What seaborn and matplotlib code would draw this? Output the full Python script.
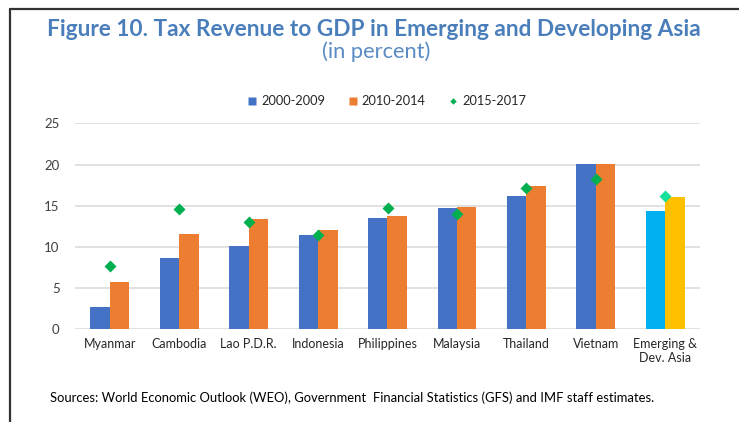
import matplotlib
matplotlib.use("Agg")
import matplotlib.pyplot as plt
from matplotlib.lines import Line2D
import seaborn as sns
import pandas as pd
import numpy as np

# ---- data ----
categories = ["Myanmar", "Cambodia", "Lao P.D.R.", "Indonesia", "Philippines",
              "Malaysia", "Thailand", "Vietnam", "Emerging &\nDev. Asia"]
v_2000_2009 = [2.7, 8.7, 10.1, 11.5, 13.5, 14.7, 16.2, 20.1, 14.4]
v_2010_2014 = [5.7, 11.6, 13.4, 12.1, 13.8, 14.8, 17.4, 20.1, 16.1]
v_2015_2017 = [7.7, 14.6, 13.0, 11.5, 14.7, 14.0, 17.1, 18.3, 16.2]
series_names = ["2000-2009", "2010-2014", "2015-2017"]
yticks = [0, 5, 10, 15, 20, 25]

title = "Figure 10. Tax Revenue to GDP in Emerging and Developing Asia"
subtitle = "(in percent)"
source = ("Sources: World Economic Outlook (WEO), Government  Financial Statistics (GFS) "
          "and IMF staff estimates.")

# ---- style ----
sns.set_theme(style="white")
plt.rcParams["font.family"] = ["Lato", "DejaVu Sans"]

C_BLUE = "#4472C4"
C_ORANGE = "#ED7D31"
C_CYAN = "#00B0F0"
C_GOLD = "#FFC000"
C_GREEN = "#00B050"
C_MINT = "#14E09C"
C_TITLE = "#4A7EBB"
C_TEXT = "#404040"

W, H = 739, 422
fig = plt.figure(figsize=(W / 100, H / 100), dpi=100)
fig.patch.set_facecolor("white")

ax = fig.add_axes([75 / W, (H - 329.3) / H, 625 / W, 206 / H])

df = pd.DataFrame({
    "category": categories * 2,
    "value": v_2000_2009 + v_2010_2014,
    "series": [series_names[0]] * len(categories) + [series_names[1]] * len(categories),
})

sns.barplot(data=df, x="category", y="value", hue="series",
            palette=[C_BLUE, C_ORANGE], width=0.56, gap=0, linewidth=0,
            saturation=1, ax=ax, legend=False, order=categories)

# aggregate group coloured differently
for cont, col in zip(ax.containers, [C_CYAN, C_GOLD]):
    cont.patches[-1].set_facecolor(col)

diamond_colors = [C_GREEN] * (len(categories) - 1) + [C_MINT]
sns.stripplot(x=categories, y=v_2015_2017, hue=categories, palette=diamond_colors,
              order=categories, hue_order=categories,
              jitter=False, marker="D", size=6.1, linewidth=0, ax=ax,
              legend=False, zorder=5)

ax.set_xlim(-0.5, len(categories) - 0.5)
ax.set_ylim(0, 25)
ax.set_yticks(yticks)
ax.set_yticklabels([str(t) for t in yticks])
ax.set_xlabel("")
ax.set_ylabel("")
ax.yaxis.grid(True, color="#D9D9D9", lw=1.1)
ax.xaxis.grid(False)
ax.set_axisbelow(True)
for s in ax.spines.values():
    s.set_visible(False)
ax.tick_params(axis="y", length=0, pad=11, labelsize=9.5, labelcolor=C_TEXT)
ax.tick_params(axis="x", length=0, pad=6, labelsize=9, labelcolor="#262626")
for lab in ax.get_xticklabels():
    lab.set_linespacing(1.25)

# ---- legend ----
handles = [
    Line2D([], [], ls="none", marker="s", ms=5.3, color=C_BLUE, mec="none"),
    Line2D([], [], ls="none", marker="s", ms=5.3, color=C_ORANGE, mec="none"),
    Line2D([], [], ls="none", marker="D", ms=3.3, color=C_GREEN, mec="none"),
]
leg = fig.legend(handles, series_names, loc="center", ncol=3, frameon=False,
                 bbox_to_anchor=(387 / W, 1 - 101 / H), fontsize=9.2,
                 handlelength=0.7, handletextpad=0.35, columnspacing=1.8,
                 borderpad=0, labelcolor="#262626")

# ---- texts ----
t_title = fig.text(374 / W, 1 - 36 / H, title, ha="center", va="baseline",
                   fontsize=15, fontweight="bold", color=C_TITLE)
t_sub = fig.text(376 / W, 1 - 57.5 / H, subtitle, ha="center", va="baseline",
                 fontsize=14, fontweight="normal", color="#5A8BC4")
t_src = fig.text(50 / W, 1 - 398 / H, source, ha="left", va="center",
                 fontsize=9, color="black")

renderer = fig.canvas.get_renderer()


def fit(txt, target_px):
    for _ in range(3):
        w = txt.get_window_extent(renderer).width
        txt.set_fontsize(txt.get_fontsize() * target_px / w)


fit(t_title, 652)
fit(t_sub, 108)
fit(t_src, 605)

# ---- frame lines ----
fig.add_artist(Line2D([9.5 / W, 1.0], [1 - 8.5 / H, 1 - 8.5 / H],
                      transform=fig.transFigure, color="#333333", lw=1.6))
fig.add_artist(Line2D([9.5 / W, 9.5 / W], [1 - 8.5 / H, 0],
                      transform=fig.transFigure, color="#333333", lw=1.6))

fig.savefig("out.png", dpi=100)
